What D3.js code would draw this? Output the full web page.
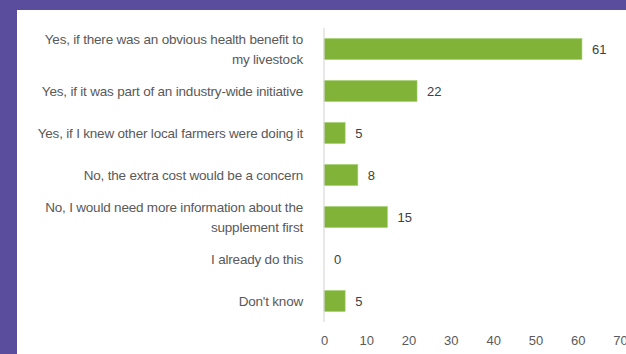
<!DOCTYPE html>
<html>
<head>
<meta charset="utf-8">
<script src="https://cdn.jsdelivr.net/npm/d3@7"></script>
<style>
  html, body { margin: 0; padding: 0; background: #5b4d9e; }
  svg { display: block; }
  text { font-family: "Liberation Sans", Arial, sans-serif; }
</style>
</head>
<body>
<svg id="chart" width="626" height="354"></svg>
<script>
// Survey responses and counts
const categories = [
  ["Yes, if there was an obvious health benefit to", "my livestock"],
  ["Yes, if it was part of an industry-wide initiative"],
  ["Yes, if I knew other local farmers were doing it"],
  ["No, the extra cost would be a concern"],
  ["No, I would need more information about the", "supplement first"],
  ["I already do this"],
  ["Don't know"]
];
const values = [61, 22, 5, 8, 15, 0, 5];
const xTicks = [0, 10, 20, 30, 40, 50, 60, 70];

const svg = d3.select("#chart");
const W = 626, H = 354;

// white panel inside the purple frame
svg.append("rect").attr("x", 17).attr("y", 10).attr("width", W - 17).attr("height", H - 10).attr("fill", "#ffffff");

const x = d3.scaleLinear().domain([0, 70]).range([324, 620]);
const y = d3.scaleBand().domain(d3.range(categories.length)).range([28, 322]).paddingInner(0.5).paddingOuter(0.25);

// bars
svg.append("g").selectAll("rect").data(values).join("rect")
  .attr("x", x(0))
  .attr("y", (d, i) => y(i))
  .attr("width", d => x(d) - x(0))
  .attr("height", y.bandwidth())
  .attr("fill", "#80b337")
  .attr("stroke", "#a6d070")
  .attr("stroke-width", 0.6);

// vertical axis line
svg.append("line")
  .attr("x1", x(0)).attr("x2", x(0))
  .attr("y1", 28).attr("y2", 322)
  .attr("stroke", "#d9d9d9").attr("stroke-width", 1.2);

// value labels
svg.append("g").selectAll("text").data(values).join("text")
  .attr("x", d => x(d) + 10)
  .attr("y", (d, i) => y(i) + y.bandwidth() / 2)
  .attr("dy", "0.35em")
  .attr("font-size", 13)
  .attr("fill", "#404040")
  .text(d => d);

// category labels
const lab = svg.append("g").selectAll("text").data(categories).join("text")
  .attr("x", 303)
  .attr("y", (d, i) => y(i) + y.bandwidth() / 2)
  .attr("text-anchor", "end")
  .attr("font-size", 13.5)
  .attr("letter-spacing", "-0.2px")
  .attr("fill", "#595959");
lab.each(function(lines) {
  const t = d3.select(this);
  const off = -(lines.length - 1) * 10;
  lines.forEach((s, k) => {
    t.append("tspan").attr("x", 303).attr("y", +t.attr("y") + off + k * 20).attr("dy", "0.35em").text(s);
  });
});

// x axis tick labels
const xAxis = d3.axisBottom(x).tickValues(xTicks).tickSize(0).tickPadding(0);
const gx = svg.append("g").attr("transform", "translate(0,336)").call(xAxis);
gx.select(".domain").remove();
gx.selectAll("text").attr("font-size", 13).attr("fill", "#595959").attr("font-family", "Liberation Sans, Arial, sans-serif");
</script>
</body>
</html>
